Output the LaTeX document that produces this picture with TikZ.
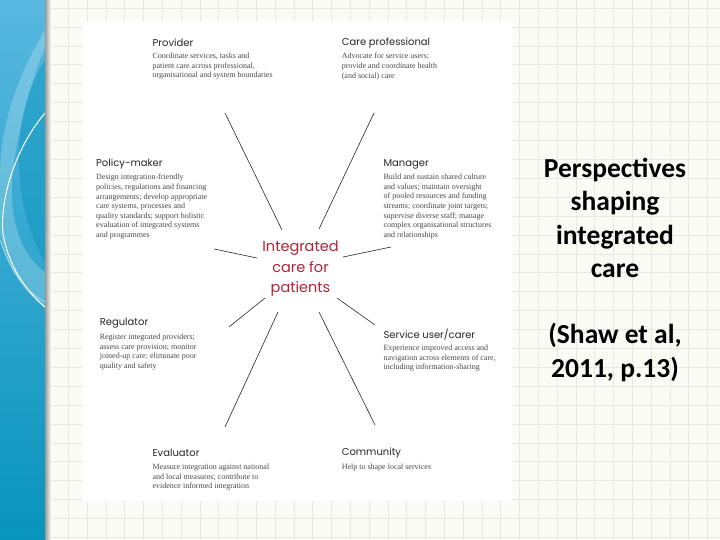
\documentclass[tikz,border=0pt]{standalone}
\usepackage{fontspec}
\setmainfont{Liberation Serif}
\newfontfamily\headfont{Poppins}
\newfontfamily\slidefont{Carlito}
\definecolor{bandtop}{RGB}{88,184,225}
\definecolor{bandbot}{RGB}{8,148,188}
\definecolor{paper}{RGB}{251,251,246}
\definecolor{gridline}{RGB}{232,232,226}
\definecolor{carered}{RGB}{178,36,56}
\definecolor{bodygray}{RGB}{72,72,72}

\begin{document}
\begin{tikzpicture}[x=1pt,y=-1pt,
  head/.style={font=\headfont\fontsize{10}{12}\selectfont,text=black!85,inner sep=0pt,anchor=west},
  body/.style={font=\fontsize{8}{9.6}\selectfont,text=bodygray,inner sep=0pt,anchor=north west,align=left},
  spoke/.style={line width=0.6pt,color=black!85},
  slide/.style={font=\slidefont\bfseries\fontsize{27.5}{33.4}\selectfont,align=center,inner sep=0pt}]
\useasboundingbox (0,0) rectangle (720,540);
% Drawing paper and grid
\fill[paper] (0,0) rectangle (720,540);
\foreach \gx in {11.7,30.5,...,720} \draw[gridline,line width=0.4pt] (\gx,0) -- (\gx,540);
\foreach \gy in {8,26.9,...,540} \draw[gridline,line width=0.4pt] (45,\gy) -- (720,\gy);
% Drawing the figure panel
\fill[white] (83,21) rectangle (512,501);
% Drawing the left band
\shade[top color=bandtop,bottom color=bandbot] (0,0) rectangle (45,540);
\fill[white,opacity=0.22] (45,30) .. controls (18,75) and (0,125) .. (0,175) -- (0,235)
  .. controls (6,268) and (24,292) .. (45,308) -- (45,272) .. controls (14,250) and (4,200) .. (18,140)
  .. controls (26,100) and (38,62) .. (45,48) -- cycle;
\fill[bandbot,opacity=0.45] (45,60) .. controls (12,110) and (8,200) .. (45,262) -- cycle;
\draw[white,line width=1pt] (45,113) .. controls (14,150) and (0,200) .. (3,233)
  .. controls (8,265) and (25,290) .. (45,307);
\draw[white,opacity=0.6,line width=0.6pt] (0,240) .. controls (10,270) and (26,292) .. (45,302);
\shade[left color=black!40,right color=paper] (45,0) rectangle (51,540);
% Drawing the centre
\node[font=\headfont\fontsize{14.5}{20.5}\selectfont,text=carered,align=center,inner sep=0pt] (core) at (300.5,268.6) {Integrated\\care for\\patients};
% Drawing spokes
\coordinate (pv-out) at (225,113); \coordinate (pv-in) at (282,230);
\coordinate (cp-out) at (374,113); \coordinate (cp-in) at (319,229);
\coordinate (pm-out) at (214,249); \coordinate (pm-in) at (257,258);
\coordinate (mg-out) at (391,247); \coordinate (mg-in) at (343,257);
\coordinate (rg-out) at (229,327); \coordinate (rg-in) at (265,298);
\coordinate (su-out) at (375,325); \coordinate (su-in) at (337,298);
\coordinate (ev-out) at (225,427); \coordinate (ev-in) at (278,312);
\coordinate (cm-out) at (375,425); \coordinate (cm-in) at (319,312);
\foreach \s in {pv,cp,pm,mg,rg,su,ev,cm} \draw[spoke] (\s-in) -- (\s-out);
% Drawing perspectives
\node[head] (prov) at (152.4,43) {Provider};
\node[body] (provtxt) at (152.4,53) {Coordinate services, tasks and\\patient care across professional,\\organisational and system boundaries};
\node[head] (carepro) at (341.6,43) {Care professional};
\node[body] (careprotxt) at (341.6,53) {Advocate for service users;\\provide and coordinate health\\(and social) care};
\node[head] (policy) at (96,164) {Policy-maker};
\node[body] (policytxt) at (96,174) {Design integration-friendly\\policies, regulations and financing\\arrangements; develop appropriate\\care systems, processes and\\quality standards; support holistic\\evaluation of integrated systems\\and programmes};
\node[head] (manager) at (383.4,164) {Manager};
\node[body] (managertxt) at (383.4,174) {Build and sustain shared culture\\and values; maintain oversight\\of pooled resources and funding\\streams; coordinate joint targets;\\supervise diverse staff; manage\\complex organisational structures\\and relationships};
\node[head] (regul) at (99.6,323) {Regulator};
\node[body] (regultxt) at (99.6,334) {Register integrated providers;\\assess care provision; monitor\\joined-up care; eliminate poor\\quality and safety};
\node[head] (user) at (383.4,334.7) {Service user/carer};
\node[body] (usertxt) at (383.4,345) {Experience improved access and\\navigation across elements of care,\\including information-sharing};
\node[head] (evalr) at (152.4,453) {Evaluator};
\node[body] (evalrtxt) at (152.4,464) {Measure integration against national\\and local measures; contribute to\\evidence informed integration};
\node[head] (commun) at (341.6,453) {Community};
\node[body] (communtxt) at (341.6,464) {Help to shape local services};
% Drawing slide text
\node[slide] (topic) at (615,217.8) {Perspectives\\shaping\\integrated\\care};
\node[slide] (cite) at (615,352.4) {(Shaw et al,\\2011, p.13)};
\end{tikzpicture}
\end{document}
